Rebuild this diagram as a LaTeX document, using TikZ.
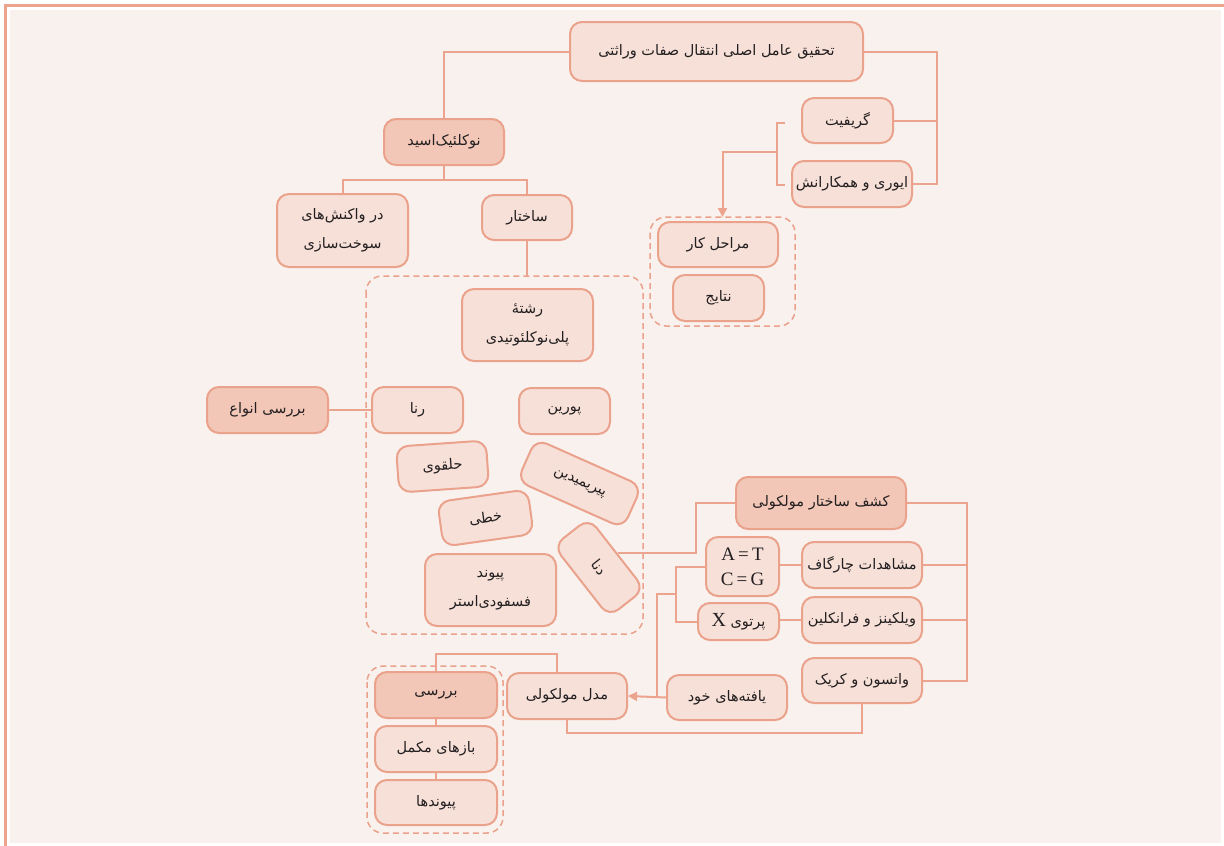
\documentclass[tikz,border=0pt]{standalone}
\usepackage{fontspec}
\usetikzlibrary{arrows.meta}
\newfontfamily\farsi[Script=Arabic]{DejaVu Sans}
\newfontfamily\latinser{Liberation Serif}
\TeXXeTstate=1
\newcommand{\rtl}[1]{\beginR #1\endR}
\definecolor{pagebg}{HTML}{F9F1ED}
\definecolor{boxfill}{HTML}{F7E0D8}
\definecolor{boxdark}{HTML}{F2C7B8}
\definecolor{boxline}{HTML}{EAA28C}
\definecolor{linkclr}{HTML}{ECA48E}
\definecolor{txt}{HTML}{231F20}

\tikzset{
  box/.style={draw=boxline, fill=boxfill, line width=2pt, rounded corners=12pt,
    align=center, inner sep=2pt, text=txt, font=\farsi\fontsize{14.5}{29}\selectfont},
  darkbox/.style={box, fill=boxdark},
  dims/.style 2 args={minimum width=#1pt, minimum height=#2pt},
  link/.style={draw=linkclr, line width=2pt},
  arrowtip/.style={-{Triangle[length=9pt,width=9pt]}},
  group/.style={draw=boxline, line width=1.5pt, dash pattern=on 6pt off 4pt,
    rounded corners=16pt},
}

\begin{document}
\begin{tikzpicture}[x=1pt,y=-1pt]
\useasboundingbox (0,0) rectangle (1224,846);
% page frame
\fill[white] (0,0) rectangle (1224,846);
\fill[pagebg] (10,10) rectangle (1221,843);
\draw[linkclr, line width=3pt] (5,846) -- (5,5) -- (1224,5);

% dashed groups
\draw[group] (650,217) rectangle (795,326);
\draw[group] (366,276) rectangle (643,634);
\draw[group] (367,666) rectangle (503,833);
\coordinate (stepstop) at (722.5,217);
\coordinate (strtop) at (527,276);

% top part
\node[box, dims={293}{59}] (top) at (716.5,51.5) {\rtl{تحقیق عامل اصلی انتقال صفات وراثتی}};
\node[box, dims={91}{45}] (griff) at (847.5,120.5) {\rtl{گریفیت}};
\node[box, dims={120}{46}] (avery) at (852,184) {\rtl{ایوری و همکارانش}};
\node[box, dims={120}{45}] (steps) at (718,244.5) {\rtl{مراحل کار}};
\node[box, dims={91}{46}] (results) at (718.5,298) {\rtl{نتایج}};
\node[darkbox, dims={120}{46}] (nuc) at (444,142) {\rtl{نوکلئیک‌اسید}};
\node[box, dims={131}{73}] (vak) at (342.5,230.5) {\rtl{در واکنش‌های}\\\rtl{سوخت‌سازی}};
\node[box, dims={90}{45}] (sakh) at (527,217.5) {\rtl{ساختار}};

% structure group
\node[box, dims={131}{72}] (strand) at (527.5,325) {\rtl{رشتهٔ}\\\rtl{پلی‌نوکلئوتیدی}};
\node[darkbox, dims={121}{46}] (anva) at (267.5,410) {\rtl{بررسی انواع}};
\node[box, dims={91}{46}] (rna) at (417.5,410) {\rtl{رنا}};
\node[box, dims={91}{46}] (purine) at (564.5,411) {\rtl{پورین}};
\node[box, dims={90}{46}, rotate=4] (ring) at (442.5,466.5) {\rtl{حلقوی}};
\node[box, dims={91}{45}, rotate=8] (linear) at (485.5,518) {\rtl{خطی}};
\node[box, dims={116}{46}, rotate=-24] (pyrim) at (579.5,483.5) {\rtl{پیریمیدین}};
\node[box, dims={90}{45}, rotate=-52] (dna) at (599,567.5) {\rtl{دنا}};
\node[box, dims={131}{72}] (bond) at (490.5,590) {\rtl{پیوند}\\\rtl{فسفودی‌استر}};

% discovery of the molecular structure
\node[darkbox, dims={170}{52}] (kashf) at (821,503) {\rtl{کشف ساختار مولکولی}};
\node[box, dims={73}{59}, font=\latinser\fontsize{19}{25}\selectfont] (pairs) at (742.5,566.5) {A\,=\,T\\C\,=\,G};
\node[box, dims={81}{37}] (xray) at (738.5,621.5) {\rtl{پرتوی {\latinser\fontsize{20}{20}\selectfont X}}};
\node[box, dims={120}{46}] (chargaff) at (862,565) {\rtl{مشاهدات چارگاف}};
\node[box, dims={120}{46}] (wilk) at (862,620) {\rtl{ویلکینز و فرانکلین}};
\node[box, dims={120}{45}] (watson) at (862,680.5) {\rtl{واتسون و کریک}};
\node[box, dims={120}{45}] (own) at (727,697.5) {\rtl{یافته‌های خود}};
\node[box, dims={120}{46}] (model) at (567,696) {\rtl{مدل مولکولی}};
\node[darkbox, dims={122}{46}] (rev) at (436,695) {\rtl{بررسی}};
\node[box, dims={122}{46}] (bases) at (436,749) {\rtl{بازهای مکمل}};
\node[box, dims={122}{45}] (bonds) at (436,802.5) {\rtl{پیوندها}};

% junction points
\coordinate (rtop) at (937,51.5);
\coordinate (brkt) at (785,123);
\coordinate (brkb) at (785,185);
\coordinate (brkm) at (777,152);
\coordinate (nucj) at (444,180);
\coordinate (kj) at (696,503);
\coordinate (rk) at (967,503);
\coordinate (lb) at (676,594);
\coordinate (lb2) at (657,594);
\coordinate (wb) at (862,733);
\coordinate (mt) at (557,654);

% connectors
\draw[link] (top.west) -| (nuc.north);
\draw[link] (top.east) -- (rtop) |- (avery.east);
\draw[link] (griff.east) -- (griff.east -| rtop);
\draw[link] (brkt) -- (brkt -| brkm) -- (brkb -| brkm) -- (brkb);
\draw[link, arrowtip] (brkm) -| (stepstop);
\draw[link] (nuc.south) -- (nucj);
\draw[link] (vak.north) |- (nucj) -| (sakh.north);
\draw[link] (sakh.south) -- (strtop);
\draw[link] (anva.east) -- (rna.west);
\draw[link] (dna.north) -| (kj) -- (kashf.west);
\draw[link] (kashf.east) -- (rk) |- (watson.east);
\draw[link] (chargaff.east) -- (chargaff.east -| rk);
\draw[link] (wilk.east) -- (wilk.east -| rk);
\draw[link] (chargaff.west) -- (chargaff.west -| pairs.east);
\draw[link] (wilk.west) -- (wilk.west -| xray.east);
\draw[link] (pairs.west) -| (lb);
\draw[link] (xray.west) -| (lb);
\draw[link] (lb) -- (lb2) -- (lb2 |- model.east);
\draw[link, arrowtip] (own.west) -- (model.east);
\draw[link] (watson.south) -- (wb) -| (model.south);
\draw[link] (model.north -| mt) -- (mt) -| (rev.north);
\draw[link, line width=1.2pt] (rev.south) -- (bases.north);
\draw[link, line width=1.2pt] (bases.south) -- (bonds.north);
\end{tikzpicture}
\end{document}
